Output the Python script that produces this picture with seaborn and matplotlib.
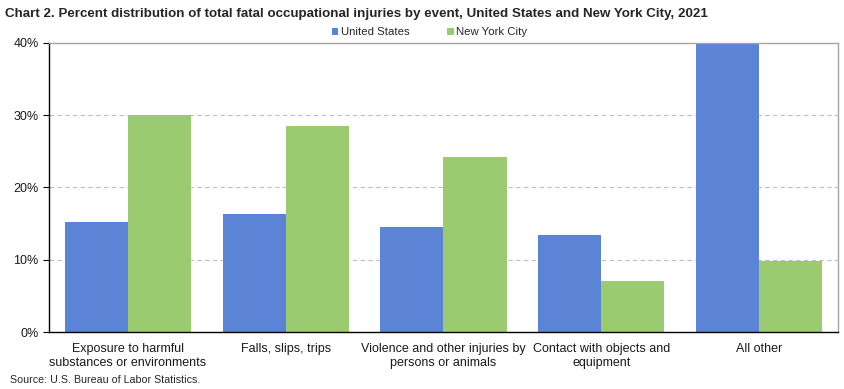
import pandas as pd
import seaborn as sns
import matplotlib.pyplot as plt
from matplotlib.ticker import PercentFormatter

categories = [
    "Exposure to harmful\nsubstances or environments",
    "Falls, slips, trips",
    "Violence and other injuries by\npersons or animals",
    "Contact with objects and\nequipment",
    "All other",
]
us_values = [15.2, 16.3, 14.5, 13.4, 40.6]
nyc_values = [30.0, 28.5, 24.2, 7.1, 9.8]
series = ["United States", "New York City"]
colors = ["#5B83D6", "#9BCB70"]

df = pd.DataFrame({
    "event": categories * 2,
    "share": us_values + nyc_values,
    "area": [series[0]] * len(categories) + [series[1]] * len(categories),
})

sns.set_style("white")
plt.rcParams["font.family"] = ["Liberation Sans", "DejaVu Sans"]

fig = plt.figure(figsize=(8.45, 3.89), dpi=100)
ax = fig.add_axes([0.058, 0.1465, 0.9337, 0.743])

sns.barplot(data=df, x="event", y="share", hue="area", palette=colors,
            hue_order=series, order=categories, saturation=1, width=0.8,
            ax=ax, errorbar=None, linewidth=0)

ax.set_ylim(0, 40)
ax.set_xlim(-0.5, 4.5)
ax.set_yticks([0, 10, 20, 30, 40])
ax.yaxis.set_major_formatter(PercentFormatter(decimals=0))
ax.yaxis.grid(True, color="#BFBFBF", linestyle=(0, (4, 3)), linewidth=0.8)
ax.set_axisbelow(True)
ax.set_xlabel("")
ax.set_ylabel("")
ax.tick_params(axis="x", length=0, labelsize=9, pad=8, colors="#1a1a1a")
ax.tick_params(axis="y", length=4, labelsize=9, left=True, color="black", colors="#1a1a1a")

for side in ["top", "right"]:
    ax.spines[side].set_color("#A6A6A6")
    ax.spines[side].set_linewidth(1)
for side in ["left", "bottom"]:
    ax.spines[side].set_color("black")
    ax.spines[side].set_linewidth(1)

ax.legend(loc="lower center", bbox_to_anchor=(0.482, 1.0), ncol=2, frameon=False,
          fontsize=8.2, handlelength=0.6, handleheight=0.6, handletextpad=0.2,
          columnspacing=3.3, borderaxespad=0.1)

fig.text(0.006, 0.965, "Chart 2. Percent distribution of total fatal occupational injuries by event, United States and New York City, 2021",
         fontsize=9.6, fontweight="bold", ha="left", va="center")
fig.text(0.012, 0.022, "Source: U.S. Bureau of Labor Statistics.", fontsize=7.7, ha="left", va="center")

fig.savefig("out.png", dpi=100)
